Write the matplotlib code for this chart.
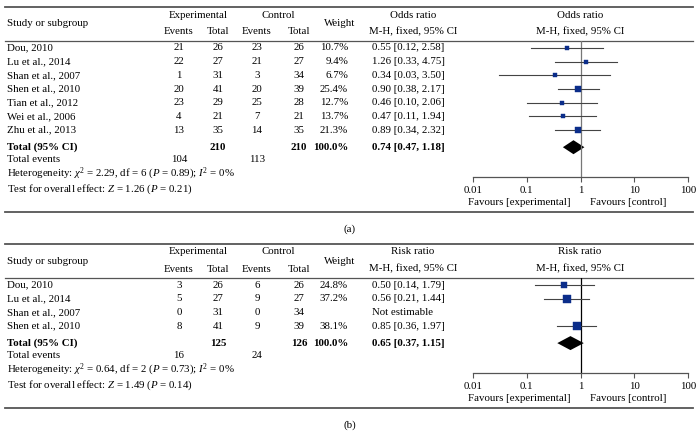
import numpy as np
import matplotlib
matplotlib.use("Agg")
import matplotlib.pyplot as plt

plt.rcParams['font.family'] = ['Liberation Serif', 'DejaVu Serif']
plt.rcParams['mathtext.fontset'] = 'custom'
plt.rcParams['mathtext.rm'] = 'Liberation Serif'
plt.rcParams['mathtext.it'] = 'Liberation Serif:italic'
plt.rcParams['mathtext.bf'] = 'Liberation Serif:bold'

# panel (a): odds ratio
studies_a = ["Dou, 2010", "Lu et al., 2014", "Shan et al., 2007", "Shen et al., 2010",
             "Tian et al., 2012", "Wei et al., 2006", "Zhu et al., 2013"]
exp_events_a = [21, 22, 1, 20, 23, 4, 13]
exp_total_a = [26, 27, 31, 41, 29, 21, 35]
ctl_events_a = [23, 21, 3, 20, 25, 7, 14]
ctl_total_a = [26, 27, 34, 39, 28, 21, 35]
weight_a = [10.7, 9.4, 6.7, 25.4, 12.7, 13.7, 21.3]
est_a = [0.55, 1.26, 0.34, 0.90, 0.46, 0.47, 0.89]
lo_a = [0.12, 0.33, 0.03, 0.38, 0.10, 0.11, 0.34]
hi_a = [2.58, 4.75, 3.50, 2.17, 2.06, 1.94, 2.32]
total_a = [0.74, 0.47, 1.18]
sums_a = [210, 210, 104, 113]
het_a = r"Heterogeneity: $\chi^2$ = 2.29, df = 6 ($P$ = 0.89); $I^2$ = 0%"
test_a = r"Test for overall effect: $Z$ = 1.26 ($P$ = 0.21)"

# panel (b): risk ratio
studies_b = ["Dou, 2010", "Lu et al., 2014", "Shan et al., 2007", "Shen et al., 2010"]
exp_events_b = [3, 5, 0, 8]
exp_total_b = [26, 27, 31, 41]
ctl_events_b = [6, 9, 0, 9]
ctl_total_b = [26, 27, 34, 39]
weight_b = [24.8, 37.2, None, 38.1]
est_b = [0.50, 0.56, None, 0.85]
lo_b = [0.14, 0.21, None, 0.36]
hi_b = [1.79, 1.44, None, 1.97]
total_b = [0.65, 0.37, 1.15]
sums_b = [125, 126, 16, 24]
het_b = r"Heterogeneity: $\chi^2$ = 0.64, df = 2 ($P$ = 0.73); $I^2$ = 0%"
test_b = r"Test for overall effect: $Z$ = 1.49 ($P$ = 0.14)"

ticks = [0.01, 0.1, 1, 10, 100]
tick_labels = ["0.01", "0.1", "1", "10", "100"]

W, H = 699, 440
FS = 7.8
BLUE = '#0b2d8a'
RULE = '#555555'

fig = plt.figure(figsize=(W / 100, H / 100), dpi=100)
bg = fig.add_axes([0, 0, 1, 1])
bg.set_xlim(0, W)
bg.set_ylim(H, 0)
bg.axis('off')

X_LAB, X_EE, X_ET, X_CE, X_CT, X_W, X_EST = 7, 179, 218, 257, 299, 348, 372
PX0, PX1 = 473, 688
ROW = 13.7


def txt(x, y, s, ha='center', bold=False):
    bg.text(x, y, s, ha=ha, va='center', fontsize=FS,
            fontweight='bold' if bold else 'normal')


def draw_panel(top, studies, ee, et, ce, ct, w, est, lo, hi, tot, sums,
               measure, het, test, caption, vcol):
    n = len(studies)
    bg.plot([5, 693], [top, top], color=RULE, lw=1.3)
    txt((X_EE + X_ET) / 2, top + 8, "Experimental")
    txt((X_CE + X_CT) / 2, top + 8, "Control")
    txt(X_LAB, top + 17, "Study or subgroup", ha='left')
    txt(X_W - 8, top + 17, "Weight")
    txt(413, top + 8, measure)
    txt(413, top + 25, "M-H, fixed, 95% CI")
    txt(580, top + 8, measure)
    txt(580, top + 25, "M-H, fixed, 95% CI")
    for x, s in [(X_EE, "Events"), (X_ET, "Total"), (X_CE, "Events"), (X_CT, "Total")]:
        txt(x, top + 25, s)
    rule_y = top + 34
    bg.plot([5, 693], [rule_y, rule_y], color=RULE, lw=0.9)

    ys = [rule_y + 7 + i * ROW for i in range(n)]
    for i, y in enumerate(ys):
        txt(X_LAB, y, studies[i], ha='left')
        txt(X_EE, y, str(ee[i]))
        txt(X_ET, y, str(et[i]))
        txt(X_CE, y, str(ce[i]))
        txt(X_CT, y, str(ct[i]))
        if w[i] is None:
            txt(X_EST, y, "Not estimable", ha='left')
        else:
            txt(X_W, y, "%.1f%%" % w[i], ha='right')
            txt(X_EST, y, "%.2f [%.2f, %.2f]" % (est[i], lo[i], hi[i]), ha='left')

    y_tot = ys[-1] + 17
    txt(X_LAB, y_tot, "Total (95% CI)", ha='left', bold=True)
    txt(X_ET, y_tot, str(sums[0]), bold=True)
    txt(X_CT, y_tot, str(sums[1]), bold=True)
    txt(X_W, y_tot, "100.0%", ha='right', bold=True)
    txt(X_EST, y_tot, "%.2f [%.2f, %.2f]" % tuple(tot), ha='left', bold=True)
    y_ev = y_tot + 12
    txt(X_LAB, y_ev, "Total events", ha='left')
    txt(X_EE, y_ev, str(sums[2]))
    txt(X_CE, y_ev, str(sums[3]))
    txt(X_LAB, y_ev + 15, het, ha='left')
    txt(X_LAB, y_ev + 30, test, ha='left')

    axis_y = y_ev + 18
    txt(571, axis_y + 25, "Favours [experimental]", ha='right')
    txt(590, axis_y + 25, "Favours [control]", ha='left')
    bottom = axis_y + 35
    bg.plot([5, 693], [bottom, bottom], color=RULE, lw=1.3)
    txt(W / 2, bottom + 17, caption)

    # forest plot axes in pixel-y units
    ax = fig.add_axes([PX0 / W, 1 - axis_y / H, (PX1 - PX0) / W, (axis_y - rule_y) / H])
    ax.patch.set_alpha(0)
    ax.set_xscale('log')
    ax.set_xlim(0.01, 100)
    ax.set_ylim(axis_y, rule_y)
    for s in ['top', 'left', 'right']:
        ax.spines[s].set_visible(False)
    ax.spines['bottom'].set_color(RULE)
    ax.spines['bottom'].set_linewidth(0.9)
    ax.set_yticks([])
    ax.set_xticks(ticks)
    ax.set_xticklabels(tick_labels)
    ax.minorticks_off()
    ax.tick_params(axis='x', direction='out', length=3.5, width=0.8, color=RULE,
                   labelsize=FS, pad=3)
    ax.axvline(1, color=vcol, lw=0.9)
    for i, y in enumerate(ys):
        if w[i] is None:
            continue
        ax.plot([lo[i], hi[i]], [y, y], color='#444444', lw=0.8)
        side = 1.2 * np.sqrt(w[i]) * 0.72
        ax.plot(est[i], y, 's', ms=side, color=BLUE, mec=BLUE, mew=0.3)
    ax.fill([tot[1], tot[0], tot[2], tot[0]], [y_tot, y_tot - 7, y_tot, y_tot + 7],
            color='black', lw=0)
    return bottom


draw_panel(7, studies_a, exp_events_a, exp_total_a, ctl_events_a, ctl_total_a,
           weight_a, est_a, lo_a, hi_a, total_a, sums_a, "Odds ratio",
           het_a, test_a, "(a)", '#777777')
draw_panel(244, studies_b, exp_events_b, exp_total_b, ctl_events_b, ctl_total_b,
           weight_b, est_b, lo_b, hi_b, total_b, sums_b, "Risk ratio",
           het_b, test_b, "(b)", 'black')

fig.savefig('out.png', dpi=100)
